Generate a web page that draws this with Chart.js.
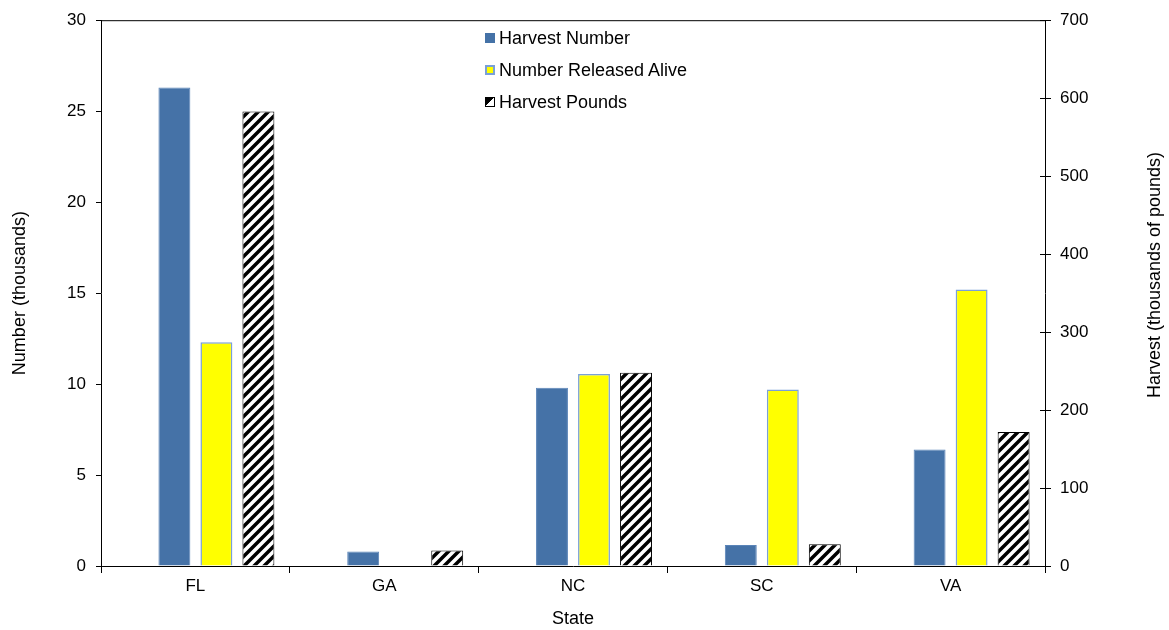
<!DOCTYPE html>
<html lang="en">
<head>
    <meta charset="UTF-8">
    <title>Harvest by State</title>
    <script src="https://cdn.jsdelivr.net/npm/chart.js"></script>
    <style>
        body { margin: 0; background: #fff; font-family: "Liberation Sans", Arial, sans-serif; }
        .wrap { position: relative; width: 1169px; height: 630px; }
        .legend { position: absolute; left: 485px; top: 26px; font-size: 18px; color: #000; }
        .legend div { height: 32px; line-height: 24px; white-space: nowrap; }
        .legend span.box { display: inline-block; width: 10px; height: 10px; margin-right: 4px; vertical-align: 1px; box-sizing: border-box; }
    </style>
</head>
<body>
<div class="wrap">
    <canvas id="chart" width="1169" height="630"></canvas>
    <div class="legend">
        <div><span class="box" style="background:#4572a7"></span>Harvest Number</div>
        <div><span class="box" style="background:#ffff00;border:2px solid #7aa0d8"></span>Number Released Alive</div>
        <div><span class="box" style="border:1px solid #000;background:linear-gradient(135deg,#000 45%,#fff 45%)"></span>Harvest Pounds</div>
    </div>
</div>
<script>
    // values
    const states = ["FL", "GA", "NC", "SC", "VA"];
    const harvestNumber = [26.3, 0.8, 9.8, 1.15, 6.4];      // thousands
    const releasedAlive = [12.3, 0, 10.55, 9.7, 15.2];      // thousands
    const harvestPounds = [583, 20, 248, 28, 172];          // thousands of pounds
    const leftTicks = [0, 5, 10, 15, 20, 25, 30];
    const rightTicks = [0, 100, 200, 300, 400, 500, 600, 700];

    // diagonal hatch for the pounds bars
    function makeHatch() {
        let c = document.createElement("canvas");
        c.width = 10; c.height = 10;
        let g = c.getContext("2d");
        g.fillStyle = "#fff";
        g.fillRect(0, 0, 10, 10);
        g.strokeStyle = "#000";
        g.lineWidth = 3.5;
        g.beginPath();
        g.moveTo(-5, 5); g.lineTo(5, -5);
        g.moveTo(0, 10); g.lineTo(10, 0);
        g.moveTo(5, 15); g.lineTo(15, 5);
        g.stroke();
        return g.createPattern(c, "repeat");
    }

    const family = "'Liberation Sans', Arial, sans-serif";
    const tickFont = { family: family, size: 17 };
    const titleFont = { family: family, size: 18 };

    // top frame line, inner stubs of right-axis ticks, right title (reads bottom to top)
    const framePlugin = {
        id: "frame",
        afterDraw(chart) {
            let ctx = chart.ctx, a = chart.chartArea, r = chart.scales.y2;
            ctx.save();
            ctx.strokeStyle = "#000";
            ctx.lineWidth = 1;
            ctx.beginPath();
            ctx.moveTo(a.left, a.top + 0.5);
            ctx.lineTo(a.right, a.top + 0.5);
            rightTicks.forEach(v => {
                let y = Math.round(r.getPixelForValue(v)) + 0.5;
                ctx.moveTo(a.right - 5, y);
                ctx.lineTo(a.right, y);
            });
            ctx.stroke();
            ctx.translate(1155, 275);
            ctx.rotate(-Math.PI / 2);
            ctx.fillStyle = "#000";
            ctx.font = "18px " + family;
            ctx.textAlign = "center";
            ctx.textBaseline = "middle";
            ctx.fillText("Harvest (thousands of pounds)", 0, 0);
            ctx.restore();
        }
    };

    new Chart(document.getElementById("chart"), {
        type: "bar",
        data: {
            labels: states,
            datasets: [
                // empty leading slot, as in the source chart
                { label: "", data: states.map(() => null), yAxisID: "y" },
                { label: "Harvest Number", data: harvestNumber, yAxisID: "y", backgroundColor: "#4572a7", borderColor: "#5a84b8", borderWidth: 1 },
                { label: "Number Released Alive", data: releasedAlive, yAxisID: "y", backgroundColor: "#ffff00", borderColor: "#7aa0d8", borderWidth: 1.5 },
                { label: "Harvest Pounds", data: harvestPounds, yAxisID: "y2", backgroundColor: makeHatch(), borderColor: "#000", borderWidth: 1 }
            ]
        },
        options: {
            responsive: false,
            animation: false,
            layout: { padding: { top: 19, left: 0, right: 0, bottom: 0 } },
            datasets: { bar: { barPercentage: 0.76, categoryPercentage: 0.89 } },
            plugins: { legend: { display: false }, tooltip: { enabled: false } },
            scales: {
                x: {
                    grid: { offset: true, drawOnChartArea: false, color: "#000", tickLength: 7 },
                    border: { color: "#000" },
                    ticks: { color: "#000", font: tickFont, padding: 3 },
                    title: { display: true, text: "State", color: "#000", font: titleFont, padding: { top: 0, bottom: 0 } },
                    afterFit(s) { s.height = 64; }
                },
                y: {
                    position: "left",
                    min: 0, max: 30,
                    afterBuildTicks(s) { s.ticks = leftTicks.map(v => ({ value: v })); },
                    grid: { drawOnChartArea: false, color: "#000", tickLength: 5 },
                    border: { color: "#000" },
                    ticks: { color: "#000", font: tickFont, padding: 10 },
                    title: { display: true, text: "Number (thousands)", color: "#000", font: titleFont, padding: { top: 9, bottom: 0 } },
                    afterFit(s) { s.width = 101; }
                },
                y2: {
                    position: "right",
                    min: 0, max: 700,
                    afterBuildTicks(s) { s.ticks = rightTicks.map(v => ({ value: v })); },
                    grid: { drawOnChartArea: false, color: "#000", tickLength: 6 },
                    border: { color: "#000" },
                    ticks: { color: "#000", font: tickFont, padding: 9 },
                    afterFit(s) { s.width = 124; }
                }
            }
        },
        plugins: [framePlugin]
    });
</script>
</body>
</html>
